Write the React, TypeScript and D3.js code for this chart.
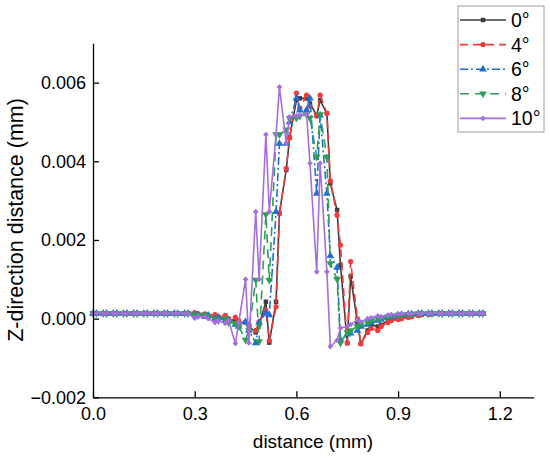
import { useEffect, useRef } from 'react';
import * as d3 from 'd3';

// distance (mm) — the scan steps in pairs, 0.01 then 0.02
const distance = [
  0, 0.01, 0.03, 0.04, 0.06, 0.07, 0.09, 0.1, 0.12, 0.13, 0.15, 0.16, 0.18, 0.19, 0.21, 0.22, 0.24, 0.25, 0.27, 0.28,
  0.3, 0.31, 0.33, 0.34, 0.36, 0.37, 0.39, 0.4, 0.42, 0.43, 0.45, 0.46, 0.48, 0.49, 0.51, 0.52, 0.54, 0.55, 0.57, 0.58,
  0.6, 0.61, 0.63, 0.64, 0.66, 0.67, 0.69, 0.7, 0.72, 0.73, 0.75, 0.76, 0.78, 0.79, 0.81, 0.82, 0.84, 0.85, 0.87, 0.88,
  0.9, 0.91, 0.93, 0.94, 0.96, 0.97, 0.99, 1.0, 1.02, 1.03, 1.05, 1.06, 1.08, 1.09, 1.11, 1.12, 1.14, 1.15,
];

// Z-direction distance, in units of 0.001 mm
const z0 = [
  0.13, 0.13, 0.13, 0.13, 0.13, 0.13, 0.13, 0.13, 0.13, 0.13, 0.13, 0.13, 0.13, 0.13, 0.13, 0.13, 0.13, 0.13, 0.13, 0.13,
  0.12, 0.1, 0.08, 0.05, 0.03, 0.0, 0.05, -0.05, -0.02, -0.1, -0.1, -0.2, -0.35, -0.15, 0.43, -0.61, 0.43, 2.68, 3.78, 4.6,
  5.55, 5.6, 5.6, 5.47, 5.17, 5.55, 5.22, 3.44, 2.76, 1.36, -0.62, 1.07, -0.1, -0.64, -0.3, -0.16, -0.2, -0.16, -0.05, -0.02,
  0.0, 0.03, 0.05, 0.07, 0.09, 0.1, 0.11, 0.12, 0.13, 0.13, 0.13, 0.13, 0.13, 0.13, 0.13, 0.13, 0.13, 0.13,
];
const z4 = [
  0.13, 0.13, 0.13, 0.13, 0.13, 0.13, 0.13, 0.13, 0.13, 0.13, 0.13, 0.13, 0.13, 0.13, 0.13, 0.13, 0.13, 0.13, 0.13, 0.13,
  0.15, 0.12, 0.12, 0.08, 0.1, 0.05, 0.08, 0.0, 0.03, -0.05, -0.1, -0.15, -0.3, -0.08, 0.2, -0.56, 0.3, 2.68, 3.82, 4.6,
  5.73, 5.35, 5.68, 5.4, 5.15, 5.68, 5.22, 3.5, 2.63, 1.87, -0.62, 1.45, 0.0, -0.64, -0.35, -0.25, -0.3, -0.2, -0.1, -0.05,
  -0.02, 0.0, 0.03, 0.05, 0.08, 0.1, 0.11, 0.12, 0.13, 0.13, 0.13, 0.13, 0.13, 0.13, 0.13, 0.13, 0.13, 0.13,
];
const z6 = [
  0.13, 0.13, 0.13, 0.13, 0.13, 0.13, 0.13, 0.13, 0.13, 0.13, 0.13, 0.13, 0.13, 0.13, 0.13, 0.13, 0.13, 0.13, 0.13, 0.13,
  0.1, 0.1, 0.05, 0.08, 0.0, 0.03, -0.05, -0.05, -0.15, -0.2, -0.08, -0.3, -0.62, -0.1, 0.14, 0.09, 2.72, 4.45, 4.45, 5.0,
  5.6, 5.3, 5.3, 5.6, 3.18, 5.17, 3.18, 1.6, 1.3, -0.54, -0.4, -0.37, -0.3, -0.2, -0.15, -0.1, -0.05, -0.02, 0.02, 0.05,
  0.08, 0.1, 0.11, 0.12, 0.13, 0.13, 0.13, 0.13, 0.13, 0.13, 0.13, 0.13, 0.13, 0.13, 0.13, 0.13, 0.13, 0.13,
];
const z8 = [
  0.13, 0.13, 0.13, 0.13, 0.13, 0.13, 0.13, 0.13, 0.13, 0.13, 0.13, 0.13, 0.13, 0.13, 0.13, 0.13, 0.13, 0.13, 0.13, 0.13,
  0.1, 0.08, 0.1, 0.05, 0.0, -0.05, 0.0, -0.1, -0.12, -0.2, -0.54, -0.3, 0.98, -0.58, 2.65, 0.98, 4.68, 4.68, 4.8, 5.09,
  5.1, 5.15, 5.19, 5.1, 4.11, 5.19, 4.11, 1.4, 1.0, -0.62, -0.35, -0.3, -0.2, -0.15, -0.1, -0.05, 0.0, 0.02, 0.05, 0.07,
  0.09, 0.1, 0.11, 0.12, 0.13, 0.13, 0.13, 0.13, 0.13, 0.13, 0.13, 0.13, 0.13, 0.13, 0.13, 0.13, 0.13, 0.13,
];
const z10 = [
  0.13, 0.13, 0.13, 0.13, 0.13, 0.13, 0.13, 0.13, 0.13, 0.13, 0.13, 0.13, 0.13, 0.13, 0.13, 0.13, 0.13, 0.13, 0.13, 0.13,
  0.01, 0.05, 0.05, 0.0, -0.1, -0.05, -0.12, -0.05, -0.63, -0.1, 1.0, -0.62, 2.72, 1.0, 4.68, 2.72, 4.68, 5.89, 4.46, 5.13,
  5.15, 5.18, 5.2, 3.95, 1.19, 3.95, 1.19, -0.71, -0.55, -0.24, -0.2, -0.15, -0.03, -0.08, 0.0, 0.02, 0.07, 0.05, 0.09, 0.1,
  0.12, 0.13, 0.13, 0.13, 0.13, 0.13, 0.13, 0.13, 0.13, 0.13, 0.13, 0.13, 0.13, 0.13, 0.13, 0.13, 0.13, 0.13,
];

const seriesNames = ['0°', '4°', '6°', '8°', '10°'];
const seriesValues = [z0, z4, z6, z8, z10];

const xTicks = [0, 0.3, 0.6, 0.9, 1.2];
const yTicks = [-0.002, 0, 0.002, 0.004, 0.006];

const W = 550;
const H = 461;
const FONT = '"Liberation Sans", Arial, sans-serif';

const styles = [
  { color: '#3d3d3d', dash: '', symbol: d3.symbolSquare, size: 20, rotate: 0 },
  { color: '#f2393c', dash: '8 5', symbol: d3.symbolCircle, size: 22, rotate: 0 },
  { color: '#1f6fd6', dash: '8 3 2 3', symbol: d3.symbolTriangle, size: 26, rotate: 0 },
  { color: '#2f9e55', dash: '9 6', symbol: d3.symbolTriangle, size: 26, rotate: 180 },
  { color: '#a56de0', dash: '', symbol: d3.symbolSquare, size: 16, rotate: 45 },
];

export default function App() {
  const svgRef = useRef<SVGSVGElement>(null);

  useEffect(() => {
    document.body.style.margin = '0';
    if (!svgRef.current) return;
    const svg = d3.select(svgRef.current);
    svg.selectAll('*').remove();

    const x = d3.scaleLinear([0, 1.3], [93, 533.7]);
    const y = d3.scaleLinear([-0.002, 0.007], [397.3, 43.3]);

    svg.append('rect').attr('width', W).attr('height', H).attr('fill', '#fff');

    // series
    seriesValues.forEach((vals, si) => {
      const st = styles[si];
      const pts = distance.map((d, i) => [d, vals[i] / 1000] as [number, number]);
      const g = svg.append('g');
      g.append('path')
        .attr('fill', 'none')
        .attr('stroke', st.color)
        .attr('stroke-width', 1.6)
        .attr('stroke-dasharray', st.dash)
        .attr('stroke-linejoin', 'round')
        .attr('d', d3.line().x(p => x(p[0])).y(p => y(p[1]))(pts) ?? '');
      const sym = d3.symbol().type(st.symbol).size(st.size)();
      g.selectAll('path.m')
        .data(pts)
        .join('path')
        .attr('class', 'm')
        .attr('d', sym)
        .attr('fill', st.color)
        .attr('transform', p => `translate(${x(p[0])},${y(p[1])}) rotate(${st.rotate})`);
    });

    // axes
    svg.append('g')
      .attr('transform', `translate(0,${y(-0.002)})`)
      .call(
        d3.axisBottom(x)
          .tickValues(xTicks)
          .tickFormat(d3.format('.1f'))
          .tickSizeInner(-6)
          .tickSizeOuter(0)
          .tickPadding(10),
      )
      .call(a => {
        a.select('.domain').attr('stroke', '#000').attr('stroke-width', 1.3);
        a.selectAll('.tick line').attr('stroke', '#000').attr('stroke-width', 1.3);
        a.selectAll('text').attr('font-size', 18).attr('font-family', FONT).attr('fill', '#000');
      });

    svg.append('g')
      .attr('transform', `translate(${x(0)},0)`)
      .call(
        d3.axisLeft(y)
          .tickValues(yTicks)
          .tickFormat(d3.format('.3f'))
          .tickSizeInner(-6)
          .tickSizeOuter(0)
          .tickPadding(7),
      )
      .call(a => {
        a.select('.domain').attr('stroke', '#000').attr('stroke-width', 1.3);
        a.selectAll('.tick line').attr('stroke', '#000').attr('stroke-width', 1.3);
        a.selectAll('text').attr('font-size', 18).attr('font-family', FONT).attr('fill', '#000');
      });

    // axis titles
    svg.append('text')
      .attr('x', 313)
      .attr('y', 448)
      .attr('text-anchor', 'middle')
      .attr('font-family', FONT)
      .attr('font-size', 19)
      .text('distance (mm)');

    svg.append('text')
      .attr('transform', `translate(23,220) rotate(-90)`)
      .attr('text-anchor', 'middle')
      .attr('font-family', FONT)
      .attr('font-size', 21.5)
      .text('Z-direction distance (mm)');

    // legend
    const lg = svg.append('g');
    lg.append('rect')
      .attr('x', 458)
      .attr('y', 6)
      .attr('width', 86)
      .attr('height', 126)
      .attr('fill', '#fff')
      .attr('stroke', '#a0a0a0')
      .attr('stroke-width', 1);
    seriesNames.forEach((name, si) => {
      const st = styles[si];
      const cy = 20 + si * 24.6;
      lg.append('line')
        .attr('x1', 460)
        .attr('x2', 506)
        .attr('y1', cy)
        .attr('y2', cy)
        .attr('stroke', st.color)
        .attr('stroke-width', 1.6)
        .attr('stroke-dasharray', st.dash);
      lg.append('path')
        .attr('d', d3.symbol().type(st.symbol).size(st.size)())
        .attr('fill', st.color)
        .attr('transform', `translate(483,${cy}) rotate(${st.rotate})`);
      lg.append('text')
        .attr('x', 511)
        .attr('y', cy + 7)
        .attr('font-family', FONT)
        .attr('font-size', 19.5)
        .text(name);
    });
  }, []);

  return <svg ref={svgRef} width={W} height={H} style={{ display: 'block' }} />;
}
